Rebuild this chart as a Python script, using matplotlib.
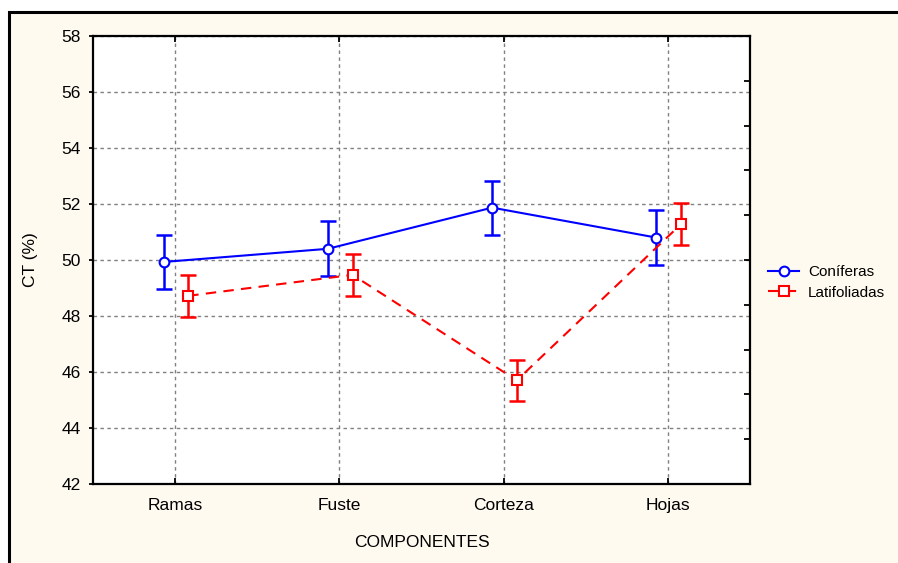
import numpy as np
import matplotlib
matplotlib.use("Agg")
import matplotlib.pyplot as plt
from matplotlib.patches import Rectangle

categories = ["Ramas", "Fuste", "Corteza", "Hojas"]
coniferas = [49.93, 50.40, 51.87, 50.80]
coniferas_err = [0.96, 0.98, 0.96, 0.97]
latifoliadas = [48.72, 49.47, 45.70, 51.28]
latifoliadas_err = [0.74, 0.75, 0.74, 0.74]
yticks = [42, 44, 46, 48, 50, 52, 54, 56, 58]

plt.rcParams['font.family'] = ['Liberation Sans', 'DejaVu Sans']

W, H = 898, 563
fig = plt.figure(figsize=(W/100, H/100), dpi=100)
fig.patch.set_facecolor('white')
cream = '#FFFAF0'
fig.patches.append(Rectangle((9/W, -0.1), 1.2, 1 - 12/H + 0.1, transform=fig.transFigure,
                             facecolor=cream, edgecolor='black', linewidth=2.2, zorder=-10))

ax = fig.add_axes([93/W, 1 - 484/H, (750-93)/W, (484-36)/H])
ax.set_zorder(5)
ax.set_facecolor('white')
x = np.arange(len(categories))
off_b, off_r = -0.07, 0.08

ax.errorbar(x + off_b, coniferas, yerr=coniferas_err, fmt='none', ecolor='#0000FF',
            elinewidth=1.8, capsize=6, capthick=1.8, zorder=3)
ax.plot(x + off_b, coniferas, color='#0000FF', lw=1.5, marker='o', markersize=7,
        markerfacecolor='white', markeredgewidth=1.5, zorder=4, label='Coníferas')
ax.errorbar(x + off_r, latifoliadas, yerr=latifoliadas_err, fmt='none', ecolor='#FF0000',
            elinewidth=1.8, capsize=6, capthick=1.8, zorder=3)
ax.plot(x + off_r, latifoliadas, color='#FF0000', lw=1.5, ls=(0, (5, 3.5)), marker='s',
        markersize=7, markerfacecolor='white', markeredgewidth=1.5, zorder=4,
        label='Latifoliadas')

fs = 12.5
ax.set_xlim(-0.5, 3.5)
ax.set_ylim(42, 58)
ax.set_xticks(x)
ax.set_xticklabels(categories, fontsize=fs)
ax.set_yticks(yticks)
ax.set_yticklabels([str(v) for v in yticks], fontsize=fs)
ax.grid(True, color='#808080', ls=(0, (2.5, 2.5)), lw=1.0, zorder=1)
ax.tick_params(axis='x', direction='in', length=4, width=1.3, top=True, pad=10, colors='black')
ax.tick_params(axis='y', direction='out', length=3, width=1.3, pad=6)
for s in ax.spines.values():
    s.set_linewidth(1.6)
    s.set_color('black')

ax2 = ax.twinx()
ax2.set_zorder(6)
ax2.patch.set_visible(False)
ax2.set_ylim(42, 58)
ax2.set_yticks(np.arange(42, 58.01, 1.6))
ax2.tick_params(axis='y', direction='in', length=4, width=1.3, labelright=False)
for s in ax2.spines.values():
    s.set_visible(False)

ax.set_xlabel('COMPONENTES', fontsize=fs, labelpad=16)
ax.set_ylabel('CT (%)', fontsize=fs, labelpad=17)

leg = ax.legend(loc='center left', bbox_to_anchor=(1.0, 0.45), frameon=False,
                fontsize=11, handlelength=2.0, handletextpad=0.6, labelspacing=0.45,
                borderaxespad=0.8)

fig.savefig('out.png', dpi=100, facecolor=fig.get_facecolor())
